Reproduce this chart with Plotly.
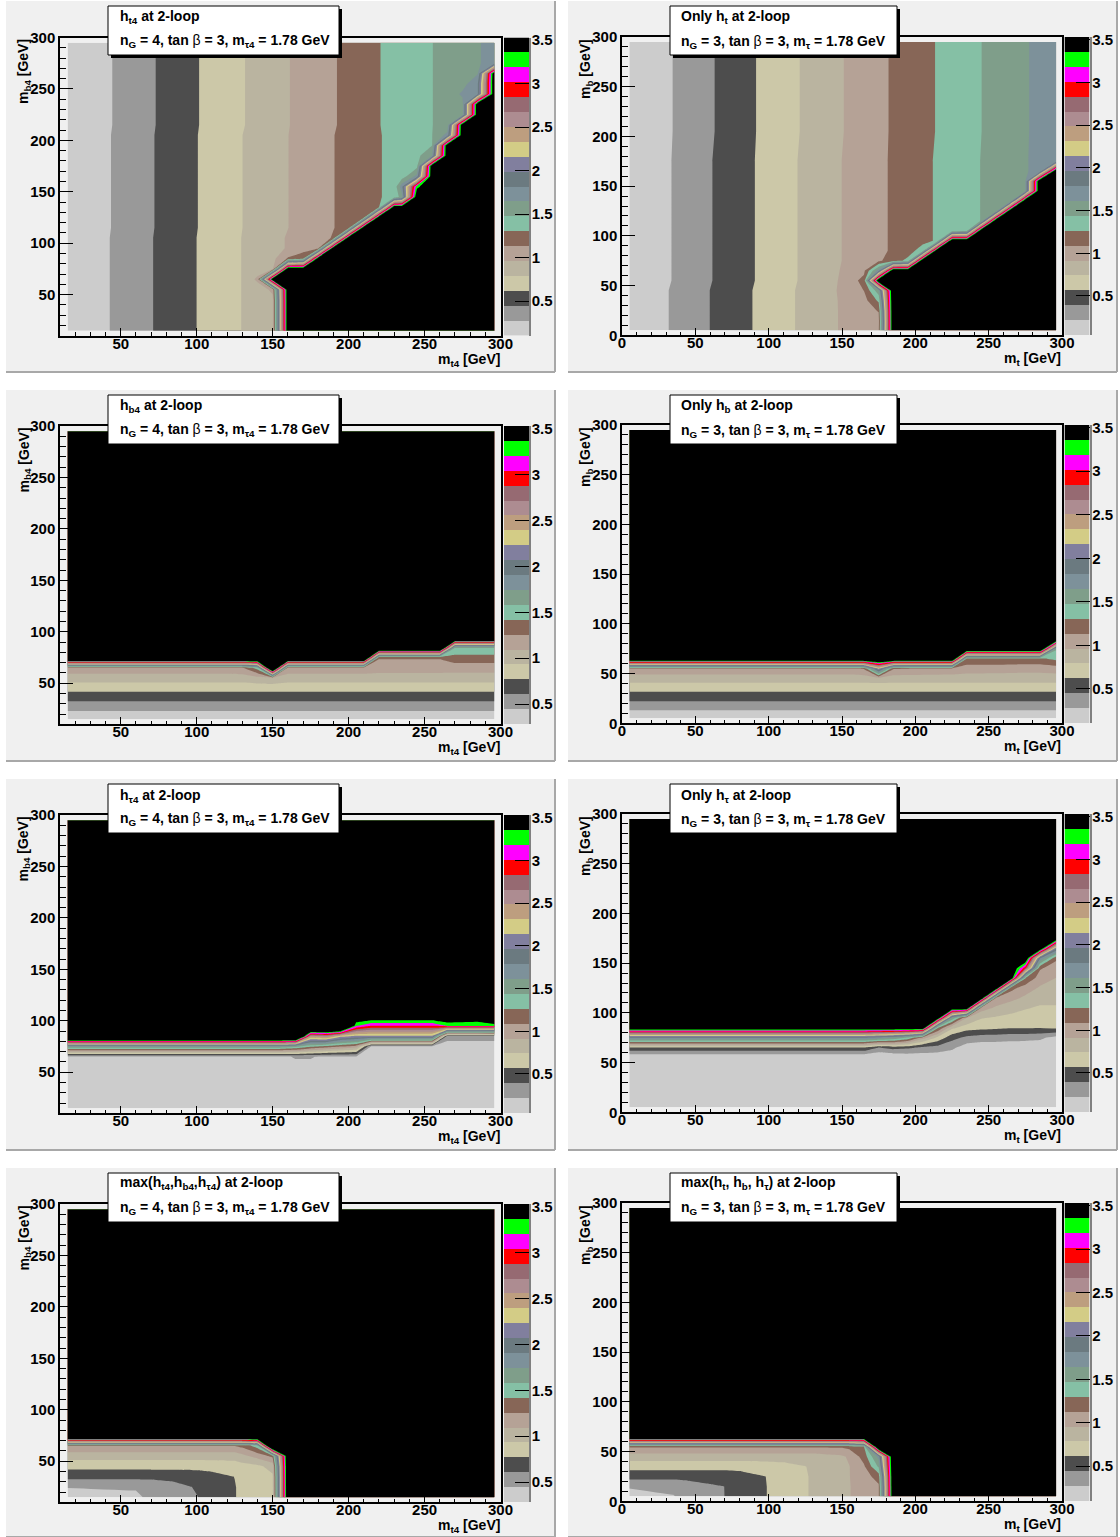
import plotly.graph_objects as go

W, H = 1120, 1537
LEVEL_COLORS = ['#cccccc', '#999999', '#4d4d4d', '#ccc8a8', '#bab4a0', '#b5a296', '#876657', '#85c0a5', '#7f9e8a', '#7d919a',
                '#6b7a80', '#817f9e', '#d3cc86', '#bd9e7f', '#ad8c91', '#966a72', '#ff0000', '#ff00ff', '#00ff00', '#000000']
BAR_TICKS = [0.5, 1, 1.5, 2, 2.5, 3, 3.5]
BAR_LABELS = ['0.5', '1', '1.5', '2', '2.5', '3', '3.5']
X_TICKS_L = [50, 100, 150, 200, 250, 300]
X_TICKS_R = [0, 50, 100, 150, 200, 250, 300]

# ---------- panel 1: h_t4 (ng=4) ----------
P1_X = [15, 30, 50, 70, 90, 110, 130, 140, 150, 160, 170, 180, 190, 200, 210, 220, 230, 235, 245, 255, 265, 275, 285, 296]
P1_BOT = [.105, .195, .315, .435, .555, .675, .79, .85, .91, .97, 1.03, 1.08, 1.14, 1.19, 1.245, 1.30, 1.35, 1.375, 1.425, 1.475, 1.53, 1.585, 1.64, 1.70]
P1_MID = [.105, .19, .31, .43, .55, .67, .785, .845, .905, .955, 1.01, 1.07, 1.125, 1.18, 1.235, 1.29, 1.345, 1.37, 1.42, 1.47, 1.52, 1.58, 1.64, 1.70]
P1_TOP = [.10, .185, .305, .425, .545, .665, .775, .835, .895, .95, 1.005, 1.06, 1.115, 1.175, 1.235, 1.295, 1.35, 1.37, 1.42, 1.47, 1.515, 1.57, 1.63, 1.70]
P1_SAT = 3.6
P1_ROWS = [(15, P1_BOT, 160), (45, P1_BOT, 160), (55, P1_BOT, 160), (65, P1_BOT, 150), (75, P1_BOT, 160), (85, P1_BOT, 180),
           (95, P1_BOT, 190), (105, P1_BOT, 200), (115, P1_MID, 210), (125, P1_MID, 220), (135, P1_MID, 230), (145, P1_MID, 245),
           (155, P1_MID, 255), (165, P1_MID, 255), (175, P1_MID, 255), (185, P1_MID, 265), (195, P1_MID, 265), (205, P1_MID, 275),
           (215, P1_TOP, 275), (225, P1_TOP, 285), (235, P1_TOP, 285), (245, P1_TOP, 295), (255, P1_TOP, 295), (265, P1_TOP, 295),
           (275, P1_TOP, None), (295, P1_TOP, None)]
P1_LOCAL = {(140, 65): 1.0, (150, 55): 1.0, (160, 85): 1.15, (170, 85): 1.28, (245, 155): 3.3,
            (235, 155): 1.75, (235, 145): 1.55, (285, 245): 1.8, (275, 245): 1.68, (285, 255): 1.8, (245, 165): 1.7,
            (255, 185): 1.65, (265, 205): 1.7}

# ---------- panel 2: h_t (ng=3) ----------
P2_X = [5, 25, 45, 65, 85, 105, 125, 145, 165, 175, 185, 195, 205, 215, 225, 235, 245, 255, 265, 275, 285, 296]
P2_LOW = [.06, .17, .30, .42, .54, .66, .78, .90, 1.01, 1.06, 1.12, 1.17, 1.23, 1.29, 1.34, 1.40, 1.45, 1.50, 1.55, 1.61, 1.66, 1.71]
P2_MID = [.05, .16, .285, .41, .53, .65, .77, .885, 1.0, 1.05, 1.11, 1.165, 1.22, 1.28, 1.33, 1.39, 1.44, 1.49, 1.545, 1.60, 1.65, 1.70]
P2_TOP = [.05, .155, .28, .40, .525, .645, .76, .875, .995, 1.05, 1.105, 1.16, 1.215, 1.27, 1.325, 1.385, 1.435, 1.485, 1.54, 1.595, 1.655, 1.70]
P2_SAT = 3.7
P2_ROWS = [(5, P2_LOW, 185), (15, P2_LOW, 185), (25, P2_LOW, 185), (35, P2_LOW, 185), (45, P2_LOW, 185), (55, P2_MID, 175),
           (65, P2_MID, 185), (75, P2_MID, 205), (85, P2_MID, 215), (95, P2_MID, 225), (105, P2_MID, 245), (115, P2_MID, 255),
           (125, P2_MID, 265), (135, P2_MID, 275), (145, P2_MID, 285), (155, P2_MID, 285), (165, P2_MID, 295), (175, P2_MID, None),
           (205, P2_TOP, None), (295, P2_TOP, None)]
P2_LOCAL = {(175, 15): 1.03, (175, 25): 1.1, (175, 35): 1.3, (175, 45): 1.55, (165, 35): 1.02, (165, 45): 1.09, (165, 55): 1.14,
            (165, 65): 1.05, (175, 65): 1.7, (185, 75): 1.2, (195, 75): 1.3, (195, 85): 1.2, (205, 85): 1.33}

# ---------- panel 3: h_b4 ----------
S3 = 4.5
P3_X = [15, 120, 130, 140, 150, 160, 210, 220, 260, 270, 296]
P3_Y = [15, 25, 35, 45, 55, 65, 75, 85, 95, 295]
P3_Z = [[.34] * 11, [.47] * 11, [.65] * 11, [.83] * 11,
        [1.01, 1.01, 1.01, 1.04, 1.07, 1.01, 1.01, 1.01, 1.01, 1.01, 1.01],
        [1.21, 1.21, 1.24, 1.5, S3, 1.21, 1.21, 1.18, 1.18, 1.175, 1.175],
        [S3, S3, S3, S3, S3, S3, S3, 1.27, 1.27, 1.35, 1.35],
        [S3, S3, S3, S3, S3, S3, S3, S3, S3, 1.6, 1.6],
        [S3] * 11, [S3] * 11]

# ---------- panel 4: h_b ----------
S4 = 4.0
P4_X = [5, 155, 165, 175, 185, 225, 235, 275, 285, 296]
P4_Y = [5, 15, 25, 35, 45, 55, 65, 75, 85, 295]
P4_Z = [[.14] * 10, [.31] * 10, [.50] * 10, [.68] * 10,
        [.87, .87, .87, .88, .87, .87, .87, .87, .87, .87],
        [1.10, 1.10, 1.15, 2.2, 1.15, 1.10, 1.05, 1.03, 1.03, 1.05],
        [S4, S4, S4, S4, S4, S4, 1.27, 1.27, 1.27, 1.35],
        [S4, S4, S4, S4, S4, S4, S4, S4, S4, 1.5],
        [S4] * 10, [S4] * 10]

# ---------- panel 5: h_tau4 ----------
S5 = 4.6
P5_X = [15, 155, 165, 175, 185, 195, 205, 215, 255, 265, 285, 296]
P5_Y = [15, 65, 75, 85, 95, 105, 115, 295]
P5_Z = [[.1] * 12,
        [.2, .2, .22, .22, .2, .2, .2, .12, .12, .1, .1, .1],
        [1.6, 1.6, 1.5, 1.3, 1.2, 1.1, 1.0, .19, .19, .12, .12, .12],
        [S5, S5, S5, 2.5, 2.6, 2.2, 2.1, 2.1, 2.1, .3, .3, .3],
        [S5, S5, S5, S5, S5, S5, 3.2, 3.0, 3.0, 3.19, 3.19, 3.22],
        [S5, S5, S5, S5, S5, S5, 3.65, 3.65, 3.65, 3.7, 3.6, 4.0],
        [S5] * 12, [S5] * 12]

# ---------- panel 6: h_tau ----------
S6 = 3.7
P6_X = [5, 165, 175, 185, 195, 205, 215, 225, 235, 245, 255, 265, 275, 285, 296]
P6_Y = [5, 55, 65, 75, 85, 95, 105, 115, 125, 135, 145, 155, 165, 175, 295]
P6_Z = [[.05] * 15,
        [.05, .05, .03, .05, .08, .1, .1, .1, .08, .08, .08, .06, .06, .06, .05],
        [.55, .55, .38, .45, .42, .35, .32, .25, .12, .1, .1, .1, .1, .1, .08],
        [1.8, 1.8, 1.7, 1.6, 1.4, 1.0, .7, .45, .34, .3, .3, .28, .27, .25, .15],
        [S6, S6, S6, S6, S6, S6, 1.3, .78, .65, .62, .6, .58, .58, .57, .6],
        [S6, S6, S6, S6, S6, S6, S6, 1.6, .92, .75, .72, .69, .67, .63, .66],
        [S6, S6, S6, S6, S6, S6, S6, S6, S6, 1.0, .88, .81, .75, .72, .72],
        [S6, S6, S6, S6, S6, S6, S6, S6, S6, S6, 1.07, .97, .88, .79, .79],
        [S6, S6, S6, S6, S6, S6, S6, S6, S6, S6, S6, 1.15, 1.0, .89, .85],
        [S6, S6, S6, S6, S6, S6, S6, S6, S6, S6, S6, S6, 1.27, 1.0, .91],
        [S6, S6, S6, S6, S6, S6, S6, S6, S6, S6, S6, S6, 2.9, 1.11, 1.0],
        [S6, S6, S6, S6, S6, S6, S6, S6, S6, S6, S6, S6, S6, 1.8, 1.12],
        [S6, S6, S6, S6, S6, S6, S6, S6, S6, S6, S6, S6, S6, S6, 2.0],
        [S6] * 15, [S6] * 15]

# ---------- panel 7: max, ng=4 ----------
S7 = 4.5
E7 = 3.7
P7_X = [15, 60, 70, 85, 100, 110, 125, 130, 140, 150, 160, 296]
P7_Y = [15, 25, 35, 45, 55, 65, 75, 295]
P7_Z = [[.33, .42, .47, .5, .6, .65, .76, .80, .86, .9, E7, S7],
        [.455, .455, .47, .55, .62, .66, .76, .80, .86, .9, E7, S7],
        [.655, .655, .66, .66, .68, .71, .77, .80, .87, .91, E7, S7],
        [.82, .82, .82, .82, .82, .83, .85, .87, .90, .98, E7, S7],
        [1.0, 1.0, 1.0, 1.0, 1.0, 1.0, 1.0, 1.05, 1.15, 1.3, E7, S7],
        [1.26, 1.26, 1.26, 1.26, 1.26, 1.26, 1.26, 1.3, 1.5, S7, S7, S7],
        [S7] * 12, [S7] * 12]

# ---------- panel 8: max, ng=3 ----------
S8 = 4.0
E8 = 3.7
P8_X = [5, 35, 45, 60, 70, 80, 100, 110, 125, 130, 150, 155, 165, 175, 185, 296]
P8_Y = [5, 15, 25, 35, 45, 55, 65, 295]
P8_Z = [[.1, .26, .32, .4, .44, .48, .62, .66, .77, .8, .92, .95, 1.0, 1.1, E8, S8],
        [.31, .31, .36, .42, .44, .48, .62, .66, .77, .8, .92, .95, 1.0, 1.1, E8, S8],
        [.5, .5, .5, .5, .5, .53, .62, .66, .77, .8, .92, .95, 1.05, 1.2, E8, S8],
        [.68, .68, .68, .68, .68, .68, .7, .72, .78, .8, .92, .95, 1.1, 1.5, E8, S8],
        [.87, .87, .87, .87, .87, .87, .87, .87, .87, .87, .93, .98, 1.2, 1.7, E8, S8],
        [1.15, 1.15, 1.15, 1.15, 1.15, 1.15, 1.15, 1.15, 1.15, 1.15, 1.15, 1.18, 1.3, S8, S8, S8],
        [S8] * 16, [S8] * 16]

# colour-bar ranges
Z_RANGES = [(.10, 3.53), (.04, 3.53), (.28, 3.53), (.106, 3.53), (.04, 3.53), (.04, 3.53), (.28, 3.53), (.096, 3.53)]

TITLES = ['h<sub>t4</sub> at 2-loop', 'Only h<sub>t</sub> at 2-loop', 'h<sub>b4</sub> at 2-loop', 'Only h<sub>b</sub> at 2-loop',
          'h<sub>τ4</sub> at 2-loop', 'Only h<sub>τ</sub> at 2-loop', 'max(h<sub>t4</sub>,h<sub>b4</sub>,h<sub>τ4</sub>) at 2-loop',
          'max(h<sub>t</sub>, h<sub>b</sub>, h<sub>τ</sub>) at 2-loop']
SUB_L = '<b>n<sub>G</sub> = 4, tan </b>β<b> = 3, m<sub>τ4</sub> = 1.78 GeV</b>'
SUB_R = '<b>n<sub>G</sub> = 3, tan </b>β<b> = 3, m<sub>τ</sub> = 1.78 GeV</b>'


def from_rows(xs, rows, local, sat):
    ys, zs = [], []
    for y, prof, wall in rows:
        row = []
        for x, v in zip(xs, prof):
            if wall is not None and x >= wall:
                row.append(sat)
            else:
                row.append(local.get((x, y), v))
        ys.append(y)
        zs.append(row)
    return ys, zs


P1_Y, P1_Z = from_rows(P1_X, P1_ROWS, P1_LOCAL, P1_SAT)
P2_Y, P2_Z = from_rows(P2_X, P2_ROWS, P2_LOCAL, P2_SAT)
GRIDS = [(P1_X, P1_Y, P1_Z), (P2_X, P2_Y, P2_Z), (P3_X, P3_Y, P3_Z), (P4_X, P4_Y, P4_Z),
         (P5_X, P5_Y, P5_Z), (P6_X, P6_Y, P6_Z), (P7_X, P7_Y, P7_Z), (P8_X, P8_Y, P8_Z)]

FF = 'Liberation Sans'
SCALE = [[i / 19, c] for i, c in enumerate(LEVEL_COLORS)]
TICK = dict(family=FF, size=15, color='black', weight='bold')


def fx(px):
    return px / W


def fy(py):
    return 1 - py / H


fig = go.Figure()
layout = dict(width=W, height=H, margin=dict(l=0, r=0, t=0, b=0, autoexpand=False), autosize=False, paper_bgcolor='white',
              plot_bgcolor='#f0f0f0', showlegend=False)
shapes, annos = [], []

PANEL_TOPS = [1, 390, 779, 1168]
PANEL_BOTS = [372, 761, 1150, 1537]
LEFT_FRAME_TOP = [37.5, 426, 815, 1204]
RIGHT_FRAME_TOP = [37, 425, 814, 1203]
BOX_TOPS = [6, 395, 784, 1173]
T1 = [17, 406, 796, 1183]
T2 = [41, 430, 819, 1208]
T2R = [42, 431, 820, 1208]

for i, (xs, ys, zs) in enumerate(GRIDS):
    col, row = i % 2, i // 2
    n = i + 1
    m = i + 9
    zmin, zmax = Z_RANGES[i]
    step = (zmax - zmin) / 20
    edges = [zmin + k * step for k in range(21)]
    x0 = 6 if col == 0 else 568
    x1 = 555 if col == 0 else 1117
    # pad
    shapes.append(dict(type='rect', xref='paper', yref='paper', x0=fx(x0), x1=fx(x1), y0=fy(PANEL_BOTS[row]), y1=fy(PANEL_TOPS[row]),
                       fillcolor='#f0f0f0', line=dict(width=0), layer='below'))
    shapes.append(dict(type='line', xref='paper', yref='paper', x0=fx(x0), x1=fx(x1), y0=fy(PANEL_BOTS[row]), y1=fy(PANEL_BOTS[row]),
                       line=dict(color='#a8a8a8', width=2), layer='below'))
    shapes.append(dict(type='line', xref='paper', yref='paper', x0=fx(x1), x1=fx(x1), y0=fy(PANEL_BOTS[row]), y1=fy(PANEL_TOPS[row]),
                       line=dict(color='#a8a8a8', width=2), layer='below'))

    fl = 60 if col == 0 else 622
    fr = 500.5 if col == 0 else 1062
    ft = LEFT_FRAME_TOP[row] if col == 0 else RIGHT_FRAME_TOP[row]
    fb = ft + 298.3
    ax0 = 10 if col == 0 else 0
    fig.add_trace(go.Contour(x=xs, y=ys, z=zs, xaxis=f'x{n}', yaxis=f'y{n}', showscale=False, hoverinfo='skip',
                             colorscale=SCALE, autocontour=False,
                             contours=dict(coloring='fill', start=edges[1], end=edges[19], size=step, showlines=False),
                             line=dict(width=0, smoothing=0), connectgaps=False))
    layout[f'xaxis{n}'] = dict(domain=[fx(fl), fx(fr)], range=[ax0, 300], anchor=f'y{n}', mirror=True, showline=True, linecolor='black',
                               linewidth=1.5, ticks='inside', ticklen=8, tickwidth=1, tickcolor='black', tickmode='array',
                               tickvals=X_TICKS_L if col == 0 else X_TICKS_R, tickfont=TICK, showgrid=False, zeroline=False,
                               ticklabelstandoff=-7,
                               minor=dict(ticks='inside', ticklen=4, tickcolor='black', tick0=0, dtick=10, showgrid=False))
    layout[f'yaxis{n}'] = dict(domain=[fy(fb), fy(ft)], range=[ax0, 300], anchor=f'x{n}', mirror=True, showline=True, linecolor='black',
                               linewidth=1.5, ticks='inside', ticklen=13, tickwidth=1, tickcolor='black', tickmode='array',
                               tickvals=X_TICKS_L if col == 0 else X_TICKS_R, tickfont=TICK, showgrid=False, zeroline=False,
                               minor=dict(ticks='inside', ticklen=6, tickcolor='black', tick0=0, dtick=10, showgrid=False))

    # palette
    bl = 504 if col == 0 else 1064.5
    br = bl + 25
    mids = [[(edges[k] + edges[k + 1]) / 2] for k in range(20)]
    fig.add_trace(go.Heatmap(x=[0, 1], y=edges, z=mids, xaxis=f'x{m}', yaxis=f'y{m}', showscale=False, hoverinfo='skip',
                             colorscale=SCALE, zmin=mids[0][0], zmax=mids[-1][0]))
    layout[f'xaxis{m}'] = dict(domain=[fx(bl), fx(br)], range=[0, 1], anchor=f'y{m}', visible=False)
    layout[f'yaxis{m}'] = dict(domain=[fy(fb), fy(ft)], range=[zmin, zmax], anchor=f'x{m}', side='right', showline=True,
                               linecolor='#808080', linewidth=1.5, ticks='inside', ticklen=14, tickwidth=1, tickcolor='black',
                               tickmode='array', tickvals=BAR_TICKS, ticktext=BAR_LABELS, tickfont=TICK, showgrid=False, zeroline=False,
                               ticklabelstandoff=-2)

    # title box
    bx0 = 108 if col == 0 else 670
    bx1 = 339 if col == 0 else 897
    bt = BOX_TOPS[row]
    shapes.append(dict(type='rect', xref='paper', yref='paper', x0=fx(bx0 + 3), x1=fx(bx1 + 3), y0=fy(bt + 52), y1=fy(bt + 3),
                       fillcolor='black', line=dict(width=0), layer='above'))
    shapes.append(dict(type='rect', xref='paper', yref='paper', x0=fx(bx0), x1=fx(bx1), y0=fy(bt + 49), y1=fy(bt),
                       fillcolor='white', line=dict(color='black', width=1), layer='above'))
    tx = 118 if col == 0 else 679
    annos.append(dict(xref='paper', yref='paper', x=fx(tx), y=fy(T1[row]), xanchor='left', yanchor='middle', showarrow=False,
                      text=f'<b>{TITLES[i]}</b>', font=dict(family=FF, size=14, color='black')))
    annos.append(dict(xref='paper', yref='paper', x=fx(tx), y=fy((T2 if col == 0 else T2R)[row]), xanchor='left', yanchor='middle',
                      showarrow=False, text=SUB_L if col == 0 else SUB_R, font=dict(family=FF, size=14, color='black')))
    # axis titles
    xtitle = '<b>m<sub>t4</sub> [GeV]</b>' if col == 0 else '<b>m<sub>t</sub> [GeV]</b>'
    ytitle = '<b>m<sub>b4</sub> [GeV]</b>' if col == 0 else '<b>m<sub>b</sub> [GeV]</b>'
    annos.append(dict(xref='paper', yref='paper', x=fx(fr + 1), y=fy(ft + 322), xanchor='right', yanchor='middle', showarrow=False,
                      text=xtitle, font=dict(family=FF, size=14, color='black')))
    annos.append(dict(xref='paper', yref='paper', x=fx(fl - 36), y=fy(ft), xanchor='center', yanchor='top', showarrow=False, textangle=-90,
                      text=ytitle, font=dict(family=FF, size=14, color='black')))

layout['shapes'] = shapes
layout['annotations'] = annos
fig.update_layout(**layout)
fig.write_html("out.html", config=dict(displayModeBar=False),
               post_script="document.body.style.margin='0';document.body.style.overflow='hidden';")
